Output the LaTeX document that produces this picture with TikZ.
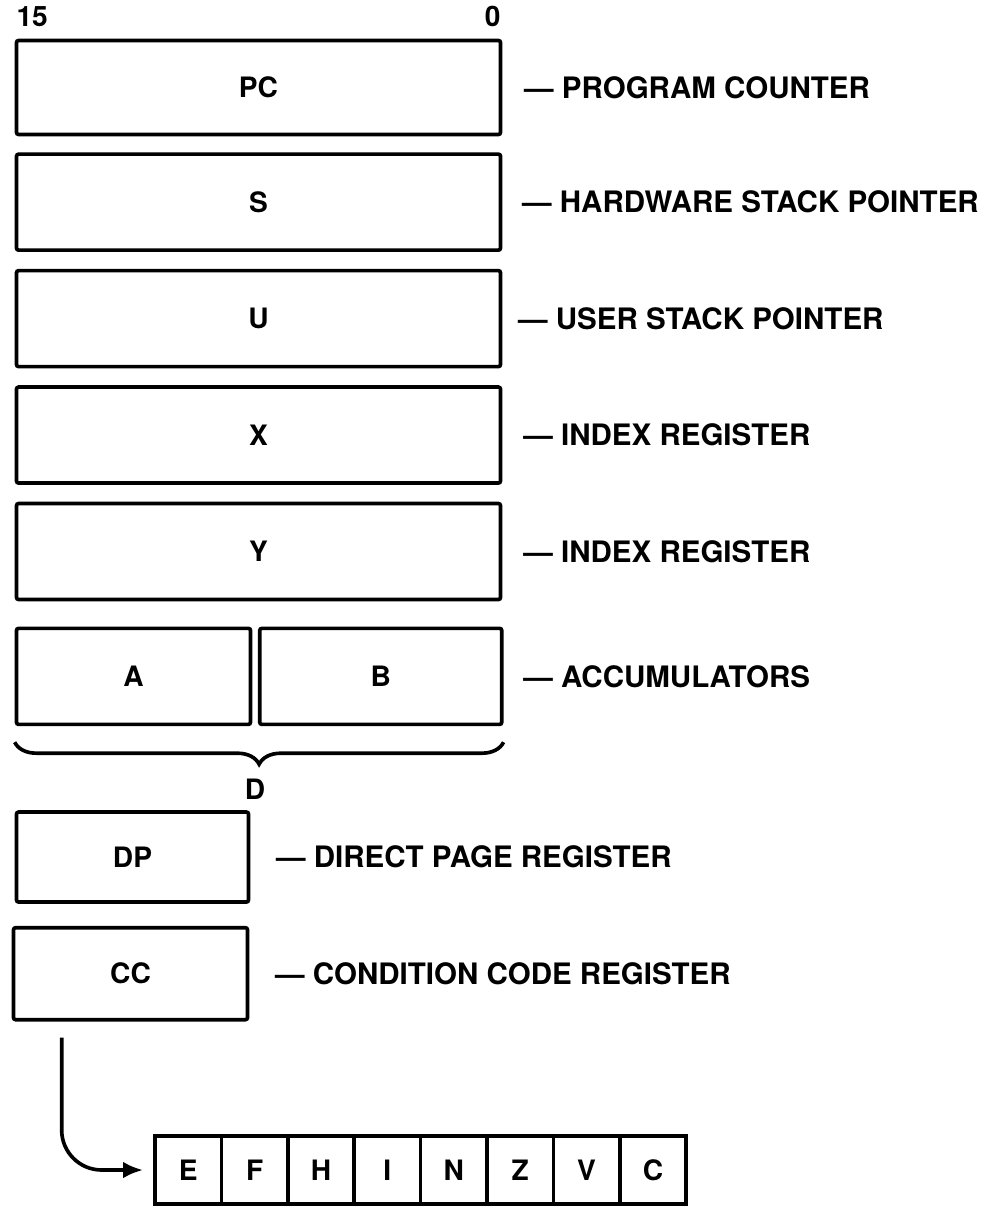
\documentclass[tikz,border=0pt]{standalone}
\usepackage{fontspec}
\setmainfont{TeX Gyre Heros}
\usetikzlibrary{positioning, arrows.meta, decorations.pathreplacing, calc}

\newcommand{\regfont}{\fontsize{20}{24}\selectfont\bfseries}
\newcommand{\lblfont}{\fontsize{21}{25}\selectfont\bfseries}

\begin{document}
\begin{tikzpicture}[>={Latex[length=0.5cm,width=0.42cm]}, line width=2.6pt]
    \useasboundingbox (0,0) rectangle (24.675,-30.2);

    \tikzset{
        reg/.style={draw, rounded corners=1.5pt, minimum height=2.4cm,
            inner sep=0pt, font=\regfont},
        desc/.style={inner sep=0pt, font=\lblfont},
        flag/.style={draw, minimum width=1.66cm, minimum height=1.7cm,
            inner sep=0pt, outer sep=0pt, font=\regfont}
    }

    % 16 bit registers
    \node [reg,
        minimum width=12.1cm,
        minimum height=2.35cm
    ] (pc) at (6.4625,-2.1875) {PC};

    \node [reg,
        minimum width=12.1cm,
        below=0.4cm of pc
    ] (s) {S};

    \node [reg,
        minimum width=12.1cm,
        below=0.42cm of s
    ] (u) {U};

    \node [reg,
        minimum width=12.1cm,
        below=0.42cm of u
    ] (x) {X};

    \node [reg,
        minimum width=12.1cm,
        below=0.42cm of x
    ] (y) {Y};

    % accumulators
    \node [reg,
        minimum width=5.85cm,
        below right=0.63cm and 0cm of y.south west
    ] (a) {A};

    \node [reg,
        minimum width=6.05cm,
        right=0.14cm of a
    ] (b) {B};

    % 8 bit registers
    \node [reg,
        minimum width=5.8cm,
        minimum height=2.25cm,
        below right=2.1cm and 0cm of a.south west
    ] (dp) {DP};

    \node [reg,
        minimum width=5.85cm,
        minimum height=2.3cm,
        below right=0.55cm and -0.075cm of dp.south west
    ] (cc) {CC};

    % bit numbers
    \node [font=\regfont, inner sep=0pt, anchor=south west] (msb)
        at ([yshift=0.25cm]pc.north west) {15};
    \node [font=\regfont, inner sep=0pt, anchor=south east] (lsb)
        at ([yshift=0.25cm]pc.north east) {0};

    % D brace
    \draw [decorate, decoration={brace, mirror, amplitude=0.55cm}]
        ($(a.south west)+(0,-0.4)$) -- ($(b.south east)+(0,-0.4)$);
    \node [font=\regfont, inner sep=0pt, anchor=north] (d)
        at ($(a.south west)!0.5!(b.south east)+(-0.1,-1.27)$) {D};

    % descriptions
    \node [desc, right=0.5cm of pc] (pclbl) {--- PROGRAM COUNTER};
    \node [desc, right=0.45cm of s] (slbl) {--- HARDWARE STACK POINTER};
    \node [desc, right=0.35cm of u] (ulbl) {--- USER STACK POINTER};
    \node [desc, right=0.48cm of x] (xlbl) {--- INDEX REGISTER};
    \node [desc, right=0.48cm of y] (ylbl) {--- INDEX REGISTER};
    \node [desc, right=0.45cm of b] (ablbl) {--- ACCUMULATORS};
    \node [desc, right=0.6cm of dp] (dplbl) {--- DIRECT PAGE REGISTER};
    \node [desc, right=0.6cm of cc] (cclbl) {--- CONDITION CODE REGISTER};

    % condition code bits
    \node [flag, anchor=west] (f1) at (3.875,-29.25) {E};
    \foreach \t [count=\i from 2, remember=\i as \j (initially 1)] in {F,H,I,N,Z,V,C}
        \node [flag, right=0pt of f\j] (f\i) {\t};

    \coordinate (ccout) at ($(cc.south west)+(1.25,-0.4)$);
    \draw [->, rounded corners=1cm, shorten >=0.3cm] (ccout) |- (f1.west);

\end{tikzpicture}
\end{document}
